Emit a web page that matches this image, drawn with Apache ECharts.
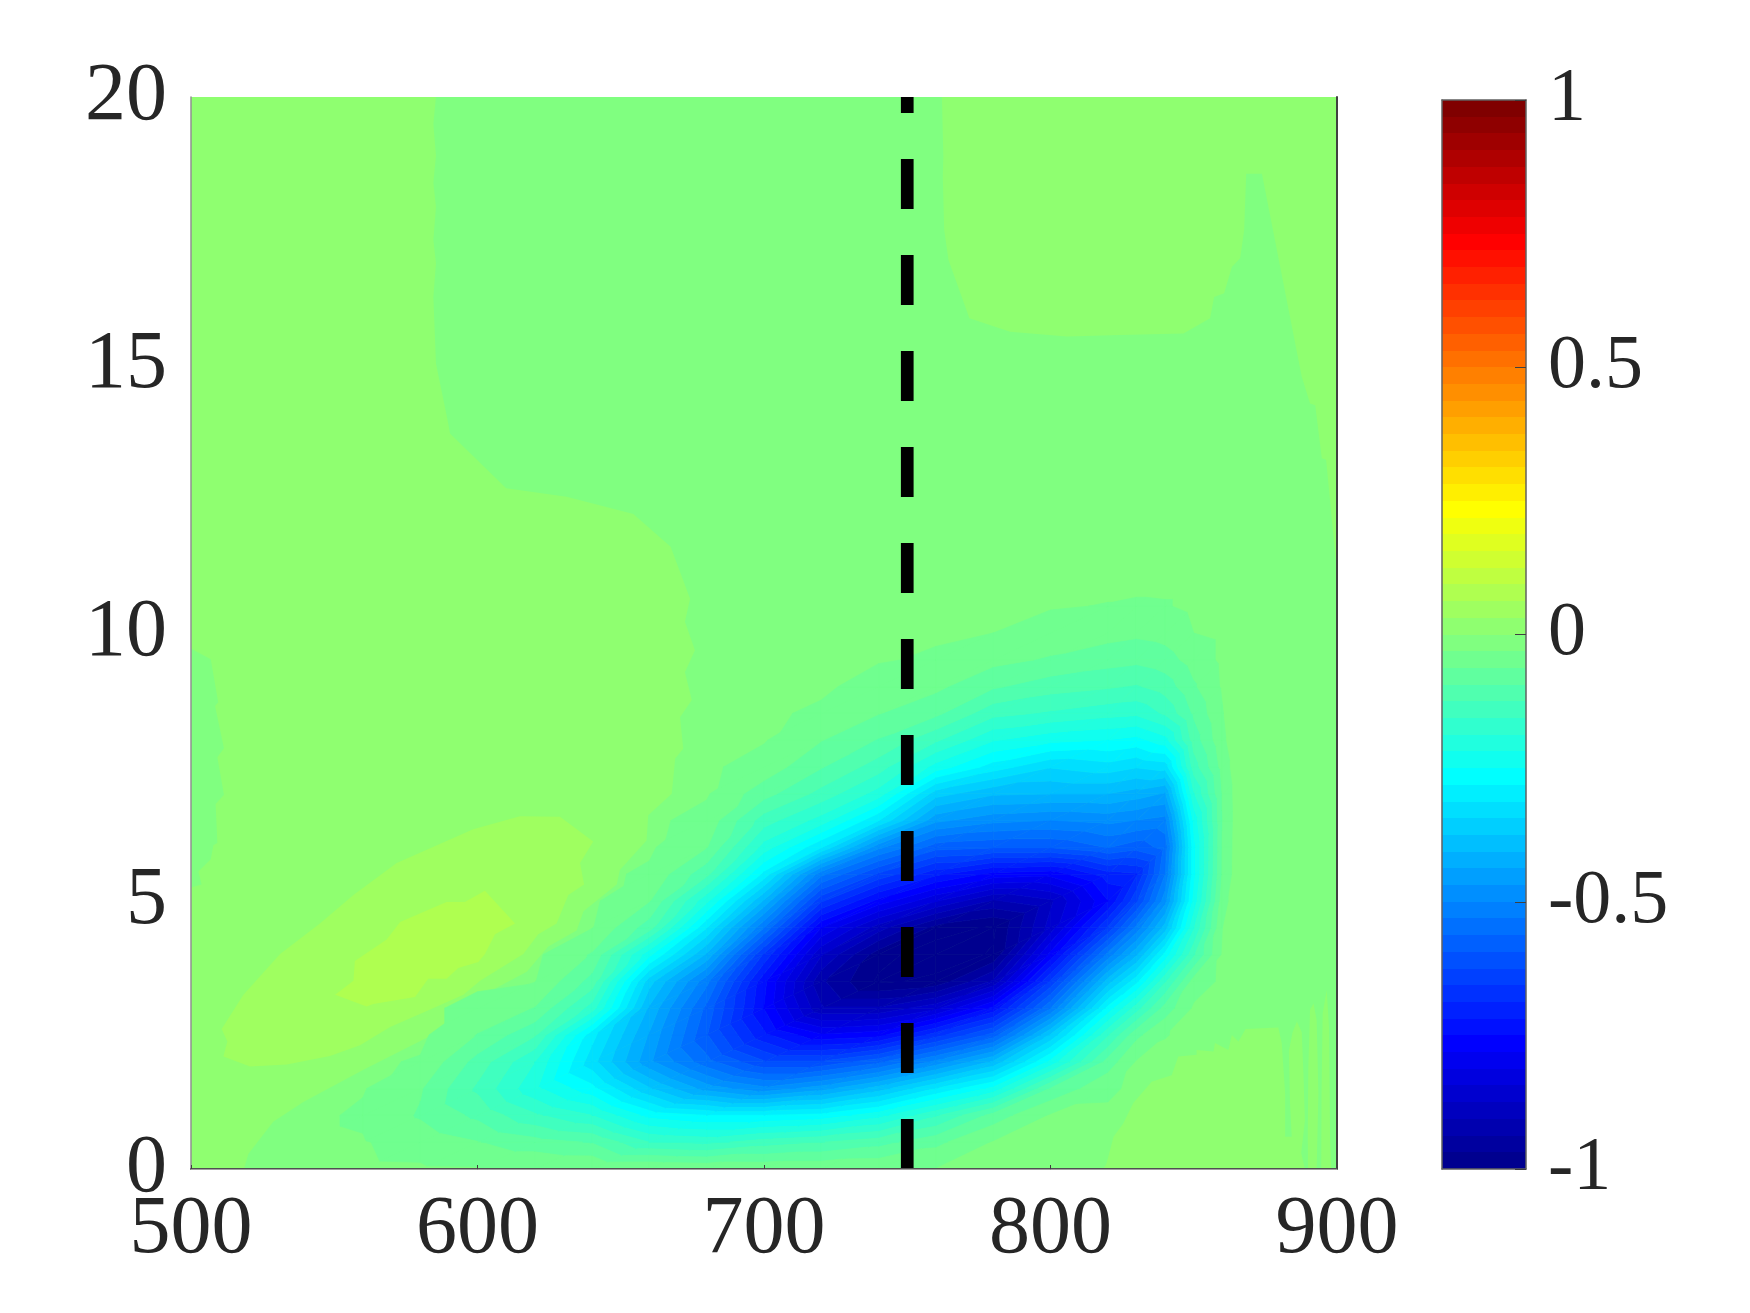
<!DOCTYPE html>
<html>
<head>
<meta charset="utf-8">
<style>html,body{margin:0;padding:0;background:#fff}#c{width:1750px;height:1313px}</style>
<script src="https://cdn.jsdelivr.net/npm/echarts@6/dist/echarts.min.js"></script>
</head>
<body>
<div id="c"></div>
<script>
// ---- tick labels
const xTicks = [500, 600, 700, 800, 900];
const yTicks = [0, 5, 10, 15, 20];
const cbTicks = [-1, -0.5, 0, 0.5, 1];
const markerX = 750;

// ---- negative lobe, values: y rows, then one column per x
const ys = [0,.5,1,1.5,2,2.5,3,3.5,4,4.5,5,5.5,6,6.5,7,7.5,8,8.5,9,9.5,10,10.5,11];
const xs = [540,560,580,600,620,640,660,680,700,720,740,760,780,800,820,830,840,850,860,870];
const col540 = [.006,.006,.006,.006,.006,.006,.006,.006,.006,.006,.006,.006,.006,.006,.006,.006,.006,.006,.006,.006,.006,.006,.006];
const col560 = [.005,.002,-.004,.002,.004,.005,.005,.005,.005,.005,.005,.005,.005,.005,.005,.005,.005,.005,.005,.005,.005,.005,.005];
const col580 = [.004,-.012,-.035,-.028,-.002,.006,.006,.006,.006,.006,.006,.006,.006,.006,.006,.006,.006,.006,.006,.006,.006,.006,.006];
const col600 = [.003,-.03,-.07,-.1,-.075,-.033,-.008,.005,.006,.006,.006,.006,.006,.006,.006,.006,.006,.006,.006,.006,.006,.006,.006];
const col620 = [.002,-.05,-.12,-.18,-.156,-.09,-.033,.001,.006,.006,.006,.006,.006,.006,.006,.006,.006,.006,.006,.006,.006,.006,.006];
const col640 = [.001,-.065,-.156,-.24,-.3,-.27,-.14,-.075,-.035,.001,.005,.006,.006,.006,.006,.006,.006,.006,.006,.006,.006,.006,.006];
const col660 = [.002,-.125,-.23,-.34,-.43,-.41,-.38,-.33,-.21,-.08,-.03,-.004,.004,.006,.006,.006,.006,.006,.006,.006,.006,.006,.006];
const col680 = [-.003,-.135,-.25,-.42,-.52,-.56,-.54,-.49,-.38,-.28,-.18,-.085,-.03,-.01,.003,.005,.006,.006,.006,.006,.006,.006,.006];
const col700 = [-.005,-.11,-.25,-.46,-.59,-.68,-.72,-.71,-.63,-.5,-.38,-.26,-.17,-.11,-.05,-.012,.002,.005,.006,.006,.006,.006,.006];
const col720 = [-.005,-.095,-.24,-.42,-.59,-.745,-.87,-.9,-.84,-.75,-.62,-.49,-.28,-.17,-.105,-.06,-.03,-.005,.005,.006,.006,.006,.006];
const col740 = [-.003,-.075,-.2,-.36,-.54,-.73,-.87,-.975,-.955,-.86,-.73,-.6,-.46,-.28,-.17,-.11,-.065,-.03,-.012,.002,.005,.006,.006];
const col760 = [.002,-.04,-.13,-.28,-.46,-.64,-.82,-.96,-.99,-.95,-.81,-.68,-.55,-.43,-.33,-.2,-.12,-.055,-.024,-.003,.003,.005,.006];
const col780 = [.006,.003,-.05,-.21,-.37,-.55,-.71,-.87,-.965,-.975,-.88,-.73,-.56,-.46,-.37,-.265,-.185,-.115,-.058,-.022,0,.005,.006];
const col800 = [.006,.006,.004,-.06,-.21,-.34,-.5,-.62,-.74,-.83,-.85,-.74,-.56,-.47,-.375,-.31,-.21,-.13,-.08,-.035,-.012,.002,.006];
const col820 = [.006,.006,.005,-.005,-.05,-.13,-.24,-.36,-.49,-.62,-.72,-.67,-.53,-.46,-.375,-.295,-.22,-.145,-.09,-.05,-.02,-.001,.006];
const col830 = [.006,.006,.006,.006,.003,-.04,-.14,-.26,-.38,-.49,-.6,-.66,-.55,-.47,-.39,-.31,-.23,-.15,-.097,-.055,-.025,-.003,.006];
const col840 = [.006,.006,.006,.006,.006,-.001,-.05,-.13,-.24,-.36,-.45,-.5,-.52,-.48,-.41,-.3,-.2,-.12,-.08,-.045,-.02,-.002,.006];
const col850 = [.006,.006,.006,.006,.006,.006,.005,-.018,-.1,-.16,-.21,-.23,-.23,-.21,-.16,-.11,-.08,-.058,-.036,-.018,0,.006,.006];
const col860 = [.006,.006,.006,.006,.006,.006,.006,.006,.005,0,-.015,-.028,-.03,-.032,-.03,-.02,-.008,-.002,.004,.006,.006,.006,.006];
const col870 = [.06,.06,.06,.06,.06,.06,.06,.06,.06,.06,.06,.06,.06,.06,.06,.06,.06,.06,.06,.06,.06,.06,.06];
const columns = [col540,col560,col580,col600,col620,col640,col660,col680,col700,col720,col740,col760,col780,col800,col820,col830,col840,col850,col860,col870];

// ---- level regions around zero, [x, y] outlines in data units
const patchLeft = [[500,20],[585.5,20],[584.6,19.5],[585.5,18.9],[584.6,18.4],[585.5,17.95],[584.6,17.33],[585.5,16.9],[584.6,16.27],[585.5,15.03],[589.8,13.91],[590.4,13.72],[610,12.7],[631.1,12.54],[654.4,12.22],[667.4,11.61],[674.2,10.64],[672.4,10.21],[675.9,9.68],[672.4,9.27],[674.8,8.75],[670.7,8.43],[671.8,7.84],[669,7.66],[667.8,7],[659.6,6.6],[659,6.13],[649.7,5.58],[648.6,5.31],[637,4.81],[634.6,4.45],[624.7,4.15],[617.2,3.68],[606.7,3.38],[596.2,2.98],[582.3,2.45],[560.2,1.85],[539.2,1.25],[528.7,.88],[522.9,.48],[520,.28],[518.5,0],[500,0]];
const patchTop = [[762.1,20],[762.6,18.89],[762.4,18.51],[762.9,17.52],[764.4,16.96],[771.7,15.87],[785.9,15.62],[805.7,15.53],[824.3,15.56],[846.4,15.59],[855.7,15.87],[857.1,16.27],[860.6,16.34],[863.3,16.83],[866.2,16.99],[867.6,17.52],[868.3,18.57],[873.8,18.57],[887.7,14.78],[890.6,14.28],[892.4,14.25],[894.7,13.26],[896.2,13.23],[899.5,11.4],[900,11.3],[900,20]];
const patchCorner = [[818.5,0],[819.6,.11],[822,.6],[825.4,.85],[828.9,1.23],[835.3,1.63],[842.3,1.75],[844.6,2.1],[851,2.13],[851,2.22],[856.9,2.19],[857.4,2.35],[862.1,2.22],[863.3,2.5],[865.6,2.38],[868.1,2.61],[879.5,2.64],[880.7,2.35],[881.9,1.41],[881.9,.6],[884.2,.6],[883.6,1.23],[883.2,2.2],[884.5,2.55],[886,2.75],[887.7,2.55],[888.3,1.75],[888.8,.9],[887.5,.3],[888.8,0]];
const spikeA = [[890.6,2.97],[891.8,3.09],[892.9,2.78],[893.5,1.41],[892.9,0],[889.9,0],[889.8,.6],[890,1.9]];
const spikeB = [[895,2.9],[896.4,3.34],[897.2,2.66],[897.6,.54],[898,0],[894.5,0],[894.6,1.4]];
const patchRaised = [[510.7,2.61],[518.3,3.25],[531.1,4.01],[545,4.58],[556.7,5.11],[571.8,5.71],[598.5,6.34],[614.8,6.58],[628.8,6.57],[640.4,6.11],[635.8,5.71],[637.2,5.31],[631.7,5.11],[627.6,4.58],[621.2,4.38],[616,4.01],[600.9,3.51],[595.1,3.25],[582.3,2.95],[569.5,2.65],[559,2.31],[548.5,2.11],[533.4,1.95],[520.6,1.91],[511.3,2.1],[512.7,2.38]];
const patchPeak = [[550.3,3.25],[556.7,3.51],[557.2,3.88],[568.3,4.28],[573,4.61],[589.2,4.98],[595.6,4.98],[602.6,5.19],[613.1,4.58],[606.1,4.38],[602.6,4.01],[600.3,3.86],[593.3,3.75],[589.2,3.55],[582.8,3.55],[578.2,3.21],[563.6,3.08],[561.3,3.03]];
const patchEdge = [[500,9.71],[506.9,9.51],[509.5,8.71],[508.4,8.64],[511.5,7.85],[509.2,7.68],[511.5,6.98],[508.6,6.81],[509.2,6.08],[507.8,6.04],[506.9,5.78],[502.6,5.55],[503.7,5.31],[500,5.25]];
const patches = [patchLeft, patchTop, patchCorner, spikeA, spikeB, patchRaised, patchPeak, patchEdge];
const patchRows = [33, 33, 33, 33, 33, 34, 35, 32];
const backgroundRow = 32;

// ---- jet colormap, 64 steps from -1 to 1
function jet(row) { // row 1..64
  const t = row / 64;
  const ch = c => Math.round(255 * Math.max(0, Math.min(1, c)));
  const r = 1.5 - Math.abs(4 * t - 3);
  const g = 1.5 - Math.abs(4 * t - 2);
  const b = 1.5 - Math.abs(4 * t - 1);
  return 'rgb(' + ch(r) + ',' + ch(g) + ',' + ch(b) + ')';
}
const cbRows = [];
for (let r = 1; r <= 64; r++) cbRows.push(r);

// ---- filled contour bands from the value grid
function clip(poly, level, keepBelow) {
  const out = [];
  for (let i = 0; i < poly.length; i++) {
    const a = poly[i], b = poly[(i + 1) % poly.length];
    const ain = keepBelow ? a[2] <= level : a[2] >= level;
    const bin = keepBelow ? b[2] <= level : b[2] >= level;
    if (ain) out.push(a);
    if (ain !== bin) {
      const f = (level - a[2]) / (b[2] - a[2]);
      out.push([a[0] + f * (b[0] - a[0]), a[1] + f * (b[1] - a[1]), level]);
    }
  }
  return out;
}
const bandPieces = [];
function addTriangle(p, q, s) {
  const vmin = Math.min(p[2], q[2], s[2]), vmax = Math.max(p[2], q[2], s[2]);
  if (vmin >= 0) return;
  for (let r = 1; r <= 32; r++) {
    const lo = -1 + (r - 1) / 32, hi = -1 + r / 32;
    if (vmax < lo || vmin > hi) continue;
    let poly = clip([p, q, s], hi, true);
    if (poly.length) poly = clip(poly, lo, false);
    // the band just under the background keeps the colour one step below it
    if (poly.length > 2) bandPieces.push({ row: Math.max(1, r - 1), poly: poly });
  }
}
for (let i = 0; i < xs.length - 1; i++) {
  for (let j = 0; j < ys.length - 1; j++) {
    const a = [xs[i], ys[j], columns[i][j]];
    const b = [xs[i + 1], ys[j], columns[i + 1][j]];
    const c = [xs[i + 1], ys[j + 1], columns[i + 1][j + 1]];
    const d = [xs[i], ys[j + 1], columns[i][j + 1]];
    addTriangle(a, b, c);
    addTriangle(a, c, d);
  }
}

const FONT = '"Liberation Serif", serif';
const INK = '#262626';
const chart = echarts.init(document.getElementById('c'), null, { renderer: 'canvas' });
chart.setOption({
  animation: false,
  backgroundColor: '#ffffff',
  grid: [
    { left: 191, top: 97, width: 1146, height: 1072, show: true, backgroundColor: jet(backgroundRow), borderWidth: 0 },
    { left: 1442, top: 100, width: 84, height: 1069, show: false }
  ],
  xAxis: [
    { gridIndex: 0, type: 'value', min: 500, max: 900, interval: 100, position: 'bottom', z: 10,
      splitLine: { show: false },
      axisLine: { show: true, lineStyle: { color: '#505050', width: 2 } },
      axisTick: { show: true, inside: true, length: 4, lineStyle: { color: '#404040', width: 1 } },
      axisLabel: { show: true, margin: 20, fontFamily: FONT, fontSize: 82, color: INK, formatter: v => String(v) } },
    { gridIndex: 0, type: 'value', min: 500, max: 900, position: 'top', z: 10, splitLine: { show: false },
      axisLine: { show: true, lineStyle: { color: '#a0a0a0', width: 1 } }, axisTick: { show: false }, axisLabel: { show: false } },
    { gridIndex: 1, type: 'value', min: 0, max: 1, position: 'bottom', z: 10, splitLine: { show: false },
      axisLine: { show: true, onZero: false, lineStyle: { color: '#606060', width: 1.5 } }, axisTick: { show: false }, axisLabel: { show: false } },
    { gridIndex: 1, type: 'value', min: 0, max: 1, position: 'top', z: 10, splitLine: { show: false },
      axisLine: { show: true, onZero: false, lineStyle: { color: '#606060', width: 1.5 } }, axisTick: { show: false }, axisLabel: { show: false } }
  ],
  yAxis: [
    { gridIndex: 0, type: 'value', min: 0, max: 20, interval: 5, position: 'left', z: 10,
      splitLine: { show: false },
      axisLine: { show: true, lineStyle: { color: '#909090', width: 1.5 } },
      axisTick: { show: false },
      axisLabel: { show: true, margin: 24, fontFamily: FONT, fontSize: 82, color: INK, padding: [0, 0, 15, 0], formatter: v => String(v) } },
    { gridIndex: 0, type: 'value', min: 0, max: 20, position: 'right', z: 10, splitLine: { show: false },
      axisLine: { show: true, lineStyle: { color: '#404040', width: 2 } }, axisTick: { show: false }, axisLabel: { show: false } },
    { gridIndex: 1, type: 'value', min: -1, max: 1, interval: 0.5, position: 'right', z: 10,
      splitLine: { show: false },
      axisLine: { show: true, onZero: false, lineStyle: { color: '#606060', width: 1.5 } },
      axisTick: { show: true, inside: true, length: 11, lineStyle: { color: '#404040', width: 1 } },
      axisLabel: { show: true, margin: 22, fontFamily: FONT, fontSize: 76, color: INK, padding: [0, 0, 20, 0], formatter: v => String(v) } },
    { gridIndex: 1, type: 'value', min: -1, max: 1, position: 'left', z: 10, splitLine: { show: false },
      axisLine: { show: true, onZero: false, lineStyle: { color: '#606060', width: 1.5 } }, axisTick: { show: false }, axisLabel: { show: false } }
  ],
  series: [
    { type: 'custom', xAxisIndex: 0, yAxisIndex: 0, clip: true, silent: true, z: 2,
      data: patches.map((p, i) => [i]),
      renderItem: (params, api) => {
        const i = api.value(0);
        return { type: 'polygon', shape: { points: patches[i].map(p => api.coord(p)) },
                 style: { fill: jet(patchRows[i]), stroke: null } };
      } },
    { type: 'custom', xAxisIndex: 0, yAxisIndex: 0, clip: true, silent: true, z: 3, progressive: 0,
      data: bandPieces.map((p, i) => [i]),
      renderItem: (params, api) => {
        const b = bandPieces[api.value(0)];
        const col = jet(b.row);
        return { type: 'polygon', shape: { points: b.poly.map(p => api.coord([p[0], p[1]])) },
                 style: { fill: col, stroke: col, lineWidth: 0.7 } };
      } },
    { type: 'line', xAxisIndex: 0, yAxisIndex: 0, z: 5, silent: true, showSymbol: false, clip: true,
      data: [[markerX, 0], [markerX, 20]],
      lineStyle: { color: '#000000', width: 12.7, type: [50, 46], cap: 'butt' } },
    { type: 'custom', xAxisIndex: 2, yAxisIndex: 2, silent: true, z: 2, progressive: 0,
      data: cbRows.map(r => [r]),
      renderItem: (params, api) => {
        const r = api.value(0);
        const a = api.coord([0, -1 + (r - 1) / 32]), b = api.coord([1, -1 + r / 32]);
        const top = Math.round(b[1]), bottom = Math.round(a[1]);
        return { type: 'rect', shape: { x: a[0], y: top, width: b[0] - a[0], height: bottom - top },
                 style: { fill: jet(r), stroke: null } };
      } }
  ]
});
</script>
</body>
</html>
